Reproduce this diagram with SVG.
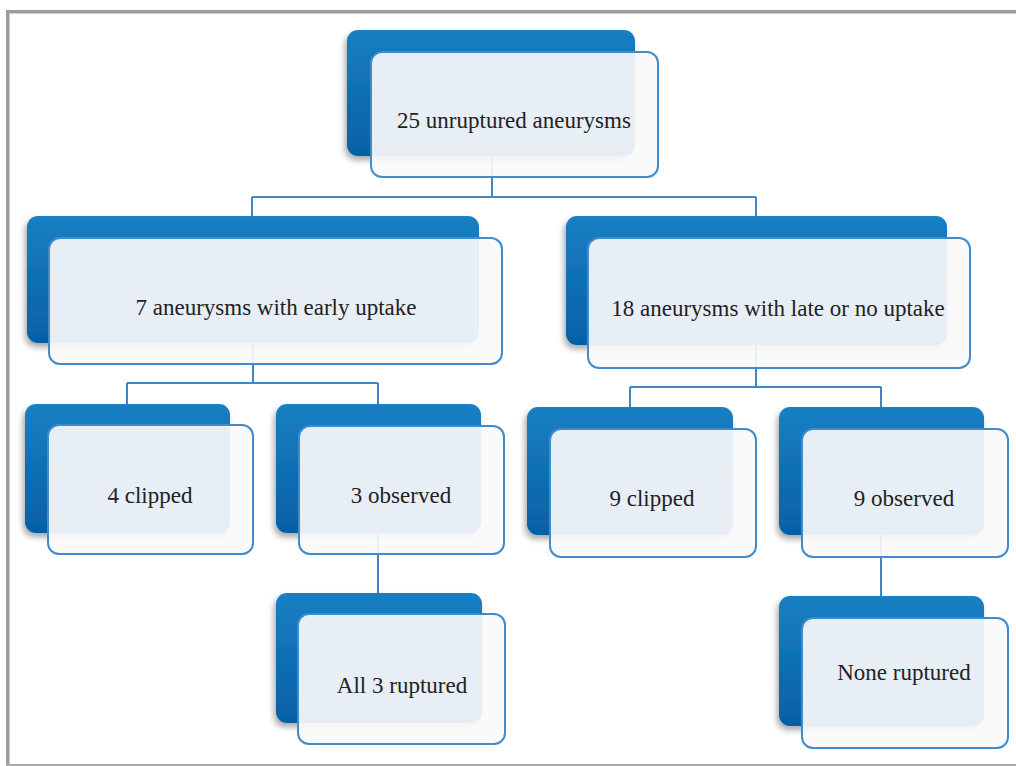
<svg xmlns="http://www.w3.org/2000/svg" width="1016" height="766" viewBox="0 0 1016 766">
<defs>
<linearGradient id="dg" x1="0" y1="0" x2="0" y2="1">
<stop offset="0" stop-color="#1a7fc3"/>
<stop offset="1" stop-color="#0560a6"/>
</linearGradient>
<filter id="sh" x="-10%" y="-10%" width="125%" height="130%">
<feGaussianBlur in="SourceAlpha" stdDeviation="3"/>
<feOffset dx="-2" dy="4" result="b"/>
<feComponentTransfer><feFuncA type="linear" slope="0.35"/></feComponentTransfer>
<feMerge><feMergeNode/><feMergeNode in="SourceGraphic"/></feMerge>
</filter>
</defs>
<style>
.dark{fill:url(#dg);filter:url(#sh)}
.light{fill:#fafafb;fill-opacity:0.92;stroke:#3f8ccc;stroke-width:2}
.conn{fill:none;stroke:#3f86c2;stroke-width:2}
.t{font-family:'Liberation Serif','Times New Roman',serif;font-size:23px;fill:#222;text-anchor:middle}
.frame{fill:#9c9c9c}
</style>
<rect width="1016" height="766" fill="#ffffff"/>
<g id="frame">
<rect class="frame" x="6" y="10" width="1010" height="3.5"/>
<rect class="frame" x="6" y="10" width="3.5" height="756"/>
<rect x="6" y="764" width="1010" height="2" fill="#ababab"/>
</g>
<g id="connectors">
<path class="conn" d="M492 150 V197 M252 197 H756 M252 197 V222 M756 197 V222"/>
<path class="conn" d="M253 340 V383 M127 383 H378 M127 383 V410 M378 383 V410"/>
<path class="conn" d="M756 340 V387 M630 387 H881 M630 387 V413 M881 387 V413"/>
<path class="conn" d="M378 530 V598"/>
<path class="conn" d="M881 530 V600"/>
</g>
<g id="n-root">
<rect class="dark" x="347" y="30" width="288" height="126" rx="11"/>
<rect class="light" x="371" y="52" width="287" height="125" rx="11"/>
<text class="t" x="514" y="128">25 unruptured aneurysms</text>
</g>
<g id="n-early">
<rect class="dark" x="27" y="216" width="452" height="127" rx="11"/>
<rect class="light" x="49" y="238" width="453" height="126" rx="11"/>
<text class="t" x="276" y="315">7 aneurysms with early uptake</text>
</g>
<g id="n-late">
<rect class="dark" x="566" y="216" width="381" height="129" rx="11"/>
<rect class="light" x="588" y="238" width="382" height="130" rx="11"/>
<text class="t" x="778" y="316">18 aneurysms with late or no uptake</text>
</g>
<g id="n-clip1">
<rect class="dark" x="25" y="404" width="205" height="129" rx="11"/>
<rect class="light" x="48" y="425" width="205" height="129" rx="11"/>
<text class="t" x="150" y="503">4 clipped</text>
</g>
<g id="n-obs1">
<rect class="dark" x="276" y="404" width="205" height="129" rx="11"/>
<rect class="light" x="299" y="426" width="205" height="128" rx="11"/>
<text class="t" x="401" y="503">3 observed</text>
</g>
<g id="n-clip2">
<rect class="dark" x="527" y="407" width="206" height="128" rx="11"/>
<rect class="light" x="550" y="429" width="206" height="128" rx="11"/>
<text class="t" x="652" y="506">9 clipped</text>
</g>
<g id="n-obs2">
<rect class="dark" x="779" y="407" width="205" height="128" rx="11"/>
<rect class="light" x="802" y="429" width="206" height="128" rx="11"/>
<text class="t" x="904" y="506">9 observed</text>
</g>
<g id="n-rup">
<rect class="dark" x="276" y="593" width="206" height="130" rx="11"/>
<rect class="light" x="298" y="614" width="207" height="130" rx="11"/>
<text class="t" x="402" y="693">All 3 ruptured</text>
</g>
<g id="n-none">
<rect class="dark" x="779" y="596" width="205" height="130" rx="11"/>
<rect class="light" x="802" y="618" width="206" height="130" rx="11"/>
<text class="t" x="904" y="680">None ruptured</text>
</g>
</svg>
